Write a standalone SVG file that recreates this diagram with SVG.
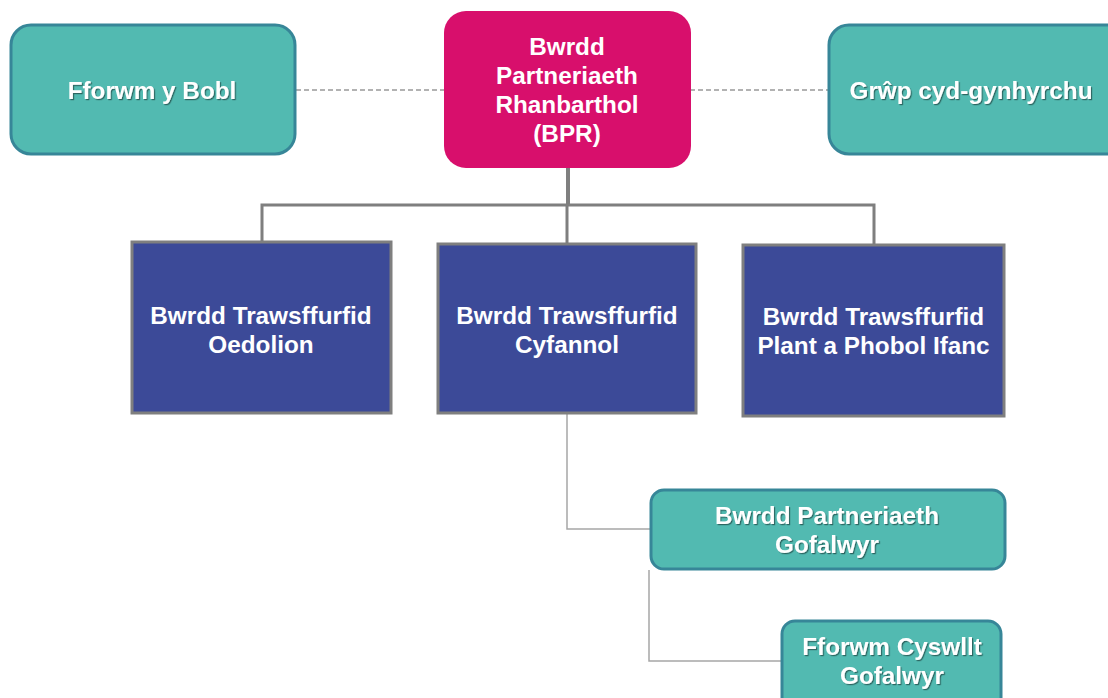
<svg xmlns="http://www.w3.org/2000/svg" width="1108" height="698" viewBox="0 0 1108 698">
<defs>
<filter id="sh" x="-10%" y="-20%" width="130%" height="150%">
<feDropShadow dx="1.2" dy="1.2" stdDeviation="0.6" flood-color="#000" flood-opacity="0.45"/>
</filter>
</defs>
<style>
.teal{fill:#52bab1;stroke:#378698;stroke-width:3}
.blue{fill:#3c4a98;stroke:#7f7f7f;stroke-width:3}
.pink{fill:#d80f6c}
text{font-family:"Liberation Sans",Arial,sans-serif;font-weight:bold;font-size:24.3px;fill:#fff;text-anchor:middle}
.ts{filter:url(#sh)}
.c{fill:none;stroke:#7f7f7f;stroke-width:3}
.ct{fill:none;stroke:#a6a6a6;stroke-width:1.5}
.d{fill:none;stroke:#999;stroke-width:1.3;stroke-dasharray:5 3}
</style>
<rect width="1108" height="698" fill="#fff"/>
<g id="connectors">
<line class="d" x1="296" y1="90" x2="444" y2="90"/>
<line class="d" x1="690" y1="90" x2="828" y2="90"/>
<path class="c" d="M568 167 V204" style="stroke-width:4"/>
<path class="c" d="M262 241 V205 H874 V244"/>
<path class="c" d="M567 205 V243"/>
<path class="ct" d="M567 414 V529 H650"/>
<path class="ct" d="M649 570 V661 H781"/>
</g>
<g id="fforwm-y-bobl">
<rect class="teal" x="11" y="25" width="284" height="129" rx="20"/>
<text class="ts" x="152" y="99">Fforwm y Bobl</text>
</g>
<g id="bpr">
<rect class="pink" x="444" y="11" width="247" height="157" rx="22"/>
<text x="567" y="55">Bwrdd</text>
<text x="567" y="84">Partneriaeth</text>
<text x="567" y="113">Rhanbarthol</text>
<text x="567" y="142">(BPR)</text>
</g>
<g id="grwp">
<rect class="teal" x="829" y="25" width="300" height="129" rx="20"/>
<text class="ts" x="971" y="99">Grŵp cyd-gynhyrchu</text>
</g>
<g id="oedolion">
<rect class="blue" x="132" y="242" width="259" height="171"/>
<text x="261" y="324">Bwrdd Trawsffurfid</text>
<text x="261" y="353">Oedolion</text>
</g>
<g id="cyfannol">
<rect class="blue" x="438" y="244" width="258" height="169"/>
<text x="567" y="324">Bwrdd Trawsffurfid</text>
<text x="567" y="353">Cyfannol</text>
</g>
<g id="plant">
<rect class="blue" x="743" y="245" width="261" height="171"/>
<text x="873.5" y="325">Bwrdd Trawsffurfid</text>
<text x="873.5" y="354">Plant a Phobol Ifanc</text>
</g>
<g id="partneriaeth-gofalwyr">
<rect class="teal" x="651" y="490" width="354" height="79" rx="13"/>
<text class="ts" x="827" y="524">Bwrdd Partneriaeth</text>
<text class="ts" x="827" y="553">Gofalwyr</text>
</g>
<g id="fforwm-cyswllt">
<rect class="teal" x="782" y="621" width="219" height="90" rx="13"/>
<text class="ts" x="892" y="655">Fforwm Cyswllt</text>
<text class="ts" x="892" y="684">Gofalwyr</text>
</g>
</svg>
